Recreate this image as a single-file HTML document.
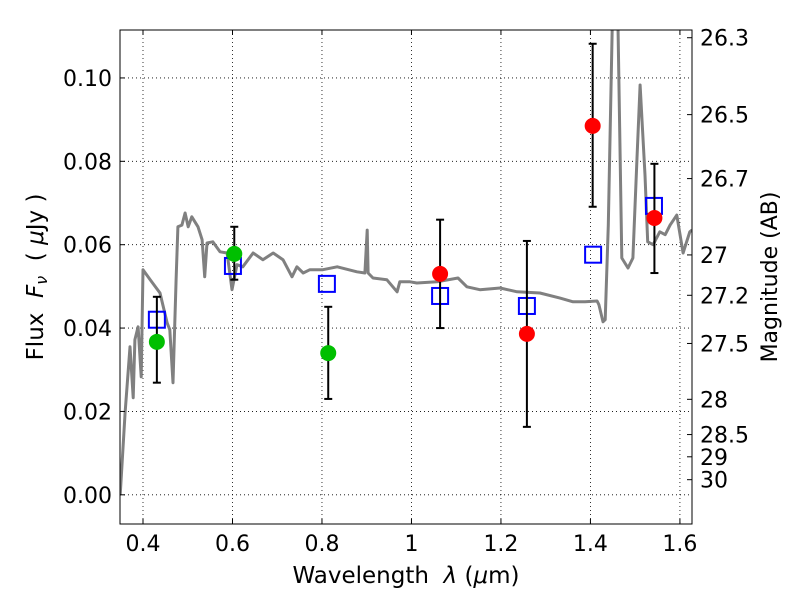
<!DOCTYPE html>
<html><head><meta charset="utf-8"><style>
body{margin:0;background:#fff}
svg text{font-family:"DejaVu Sans","Liberation Sans",sans-serif;fill:#000;white-space:pre}
</style></head><body>
<svg id="chart" width="800" height="600" xmlns="http://www.w3.org/2000/svg">
<defs><clipPath id="pc"><rect x="120" y="30" width="572" height="494"/></clipPath></defs>
<g id="grid"></g>
<g id="spec" clip-path="url(#pc)"></g>
<g id="marks" clip-path="url(#pc)"></g>
<rect x="120" y="30" width="572" height="494" fill="none" stroke="#000" stroke-width="1"/>
<g id="axes"></g>
<text x="406" y="583" font-size="23" text-anchor="middle">Wavelength&#160;&#160;<tspan font-style="italic">λ</tspan> (<tspan font-style="italic">μ</tspan>m)</text>
<text transform="translate(43,277) rotate(-90)" font-size="23" text-anchor="middle">Flux&#160;&#160;<tspan font-style="italic">F</tspan><tspan font-size="16" font-style="italic" dy="4">ν</tspan><tspan dy="-4">&#160;&#160;(&#160;<tspan font-style="italic">μ</tspan>Jy )</tspan></text>
<text transform="translate(777,277) rotate(-90)" font-size="22" text-anchor="middle">Magnitude (AB)</text>
</svg>
<script>
const xTicks=[0.4,0.6,0.8,1.0,1.2,1.4,1.6];
const xTickLabels=["0.4","0.6","0.8","1","1.2","1.4","1.6"];
const yTicks=[0,0.02,0.04,0.06,0.08,0.10];
const yTickLabels=["0.00","0.02","0.04","0.06","0.08","0.10"];
const magTicks=[26.3,26.5,26.7,27,27.2,27.5,28,28.5,29,30];
const specWave=[0.349,0.360,0.371,0.378,0.382,0.389,0.396,0.400,0.416,0.438,0.454,0.460,0.467,0.474,0.478,0.487,0.494,0.501,0.509,0.523,0.532,0.538,0.543,0.556,0.572,0.588,0.599,0.610,0.623,0.646,0.668,0.691,0.713,0.733,0.744,0.758,0.773,0.802,0.834,0.878,0.896,0.901,0.903,0.914,0.945,0.968,0.974,0.997,1.012,1.057,1.104,1.124,1.153,1.198,1.236,1.287,1.332,1.361,1.388,1.415,1.419,1.428,1.433,1.440,1.452,1.459,1.470,1.484,1.495,1.504,1.511,1.522,1.528,1.540,1.555,1.567,1.578,1.593,1.607,1.622,1.627];
const specFlux=[0.000,0.0197,0.0355,0.0233,0.0372,0.0403,0.0283,0.054,0.0516,0.0484,0.0412,0.0396,0.0269,0.0516,0.0643,0.0647,0.0676,0.0643,0.0667,0.0643,0.0612,0.0523,0.0604,0.0607,0.0583,0.058,0.0492,0.0552,0.0547,0.058,0.0564,0.058,0.0564,0.0523,0.0547,0.0532,0.054,0.054,0.0547,0.0535,0.0532,0.0635,0.0532,0.052,0.0516,0.0487,0.0511,0.0511,0.0508,0.0511,0.052,0.0499,0.0492,0.0496,0.0487,0.0484,0.0472,0.0463,0.0463,0.0465,0.0456,0.0415,0.042,0.0647,0.13,0.13,0.0568,0.0544,0.0568,0.0808,0.0983,0.0767,0.0607,0.060,0.0631,0.0624,0.0647,0.0671,0.058,0.0631,0.0635];
const modelWave=[0.431,0.601,0.811,1.064,1.258,1.406,1.542];
const modelFlux=[0.042,0.0549,0.0506,0.0477,0.0453,0.0576,0.0693];
const greenWave=[0.431,0.604,0.814];
const greenFlux=[0.0367,0.0578,0.034];
const greenErrLo=[0.0269,0.0516,0.023];
const greenErrHi=[0.0475,0.0643,0.0451];
const redWave=[1.064,1.258,1.405,1.543];
const redFlux=[0.053,0.0386,0.0885,0.0664];
const redErrLo=[0.040,0.0163,0.0691,0.0532];
const redErrHi=[0.066,0.0609,0.1082,0.0794];

const X0=120,X1=692,Y0=524,Y1=30,xmin=0.3486,xmax=1.627,ymin=-0.007,ymax=0.1115;
const sx=v=>X0+(v-xmin)/(xmax-xmin)*(X1-X0);
const sy=v=>Y0-(v-ymin)/(ymax-ymin)*(Y0-Y1);
const NS="http://www.w3.org/2000/svg";
function mk(tag,parent,attrs){const e=document.createElementNS(NS,tag);for(const k in attrs)e.setAttribute(k,attrs[k]);parent.appendChild(e);return e;}
const grid=document.getElementById('grid'),axes=document.getElementById('axes'),spec=document.getElementById('spec'),marks=document.getElementById('marks');
xTicks.forEach((t,i)=>{const x=sx(t);
 const g=mk('line',grid,{x1:x,x2:x,y1:Y1,y2:Y0,stroke:'#000','stroke-dasharray':'1,3','stroke-width':0.8});
 
 mk('line',axes,{x1:x,x2:x,y1:Y0,y2:Y0-5,stroke:'#000'});mk('line',axes,{x1:x,x2:x,y1:Y1,y2:Y1+5,stroke:'#000'});
 const l=mk('text',axes,{x:x,y:Y0+27,'font-size':22,'text-anchor':'middle'});l.textContent=xTickLabels[i];
 });
yTicks.forEach((t,i)=>{const y=sy(t);
 const g=mk('line',grid,{x1:X0,x2:X1,y1:y,y2:y,stroke:'#000','stroke-dasharray':'1,3','stroke-width':0.8});
 
 mk('line',axes,{x1:X0,x2:X0+5,y1:y,y2:y,stroke:'#000'});
 const l=mk('text',axes,{x:X0-8,y:y+8,'font-size':22,'text-anchor':'end'});l.textContent=yTickLabels[i];
 });
magTicks.forEach(m=>{const f=Math.pow(10,(23.9-m)/2.5);const y=sy(f);
 mk('line',axes,{x1:X1,x2:X1-5,y1:y,y2:y,stroke:'#000'});
 const l=mk('text',axes,{x:X1+8,y:y+8,'font-size':22});l.textContent=String(m);
 });
let d='';specWave.forEach((w,i)=>{d+=(i?'L':'M')+sx(w).toFixed(1)+','+sy(specFlux[i]).toFixed(1);});
const p=mk('path',spec,{d:d,fill:'none',stroke:'#808080','stroke-width':3,'stroke-linejoin':'round'});

function errbar(w,lo,hi){const x=sx(w);
 const g=mk('g',marks,{stroke:'#000','stroke-width':2});
 
 mk('line',g,{x1:x,x2:x,y1:sy(lo),y2:sy(hi)});
 mk('line',g,{x1:x-4,x2:x+4,y1:sy(lo),y2:sy(lo)});mk('line',g,{x1:x-4,x2:x+4,y1:sy(hi),y2:sy(hi)});}
modelWave.forEach((w,i)=>{const r=mk('rect',marks,{x:sx(w)-8,y:sy(modelFlux[i])-8,width:16,height:16,fill:'none',stroke:'#0000ff','stroke-width':2});
 });
greenWave.forEach((w,i)=>{errbar(w,greenErrLo[i],greenErrHi[i]);
 const c=mk('circle',marks,{cx:sx(w),cy:sy(greenFlux[i]),r:8,fill:'#00bf00'});
 });
redWave.forEach((w,i)=>{errbar(w,redErrLo[i],redErrHi[i]);
 const c=mk('circle',marks,{cx:sx(w),cy:sy(redFlux[i]),r:8,fill:'#ff0000'});
 });
</script>
</body></html>
